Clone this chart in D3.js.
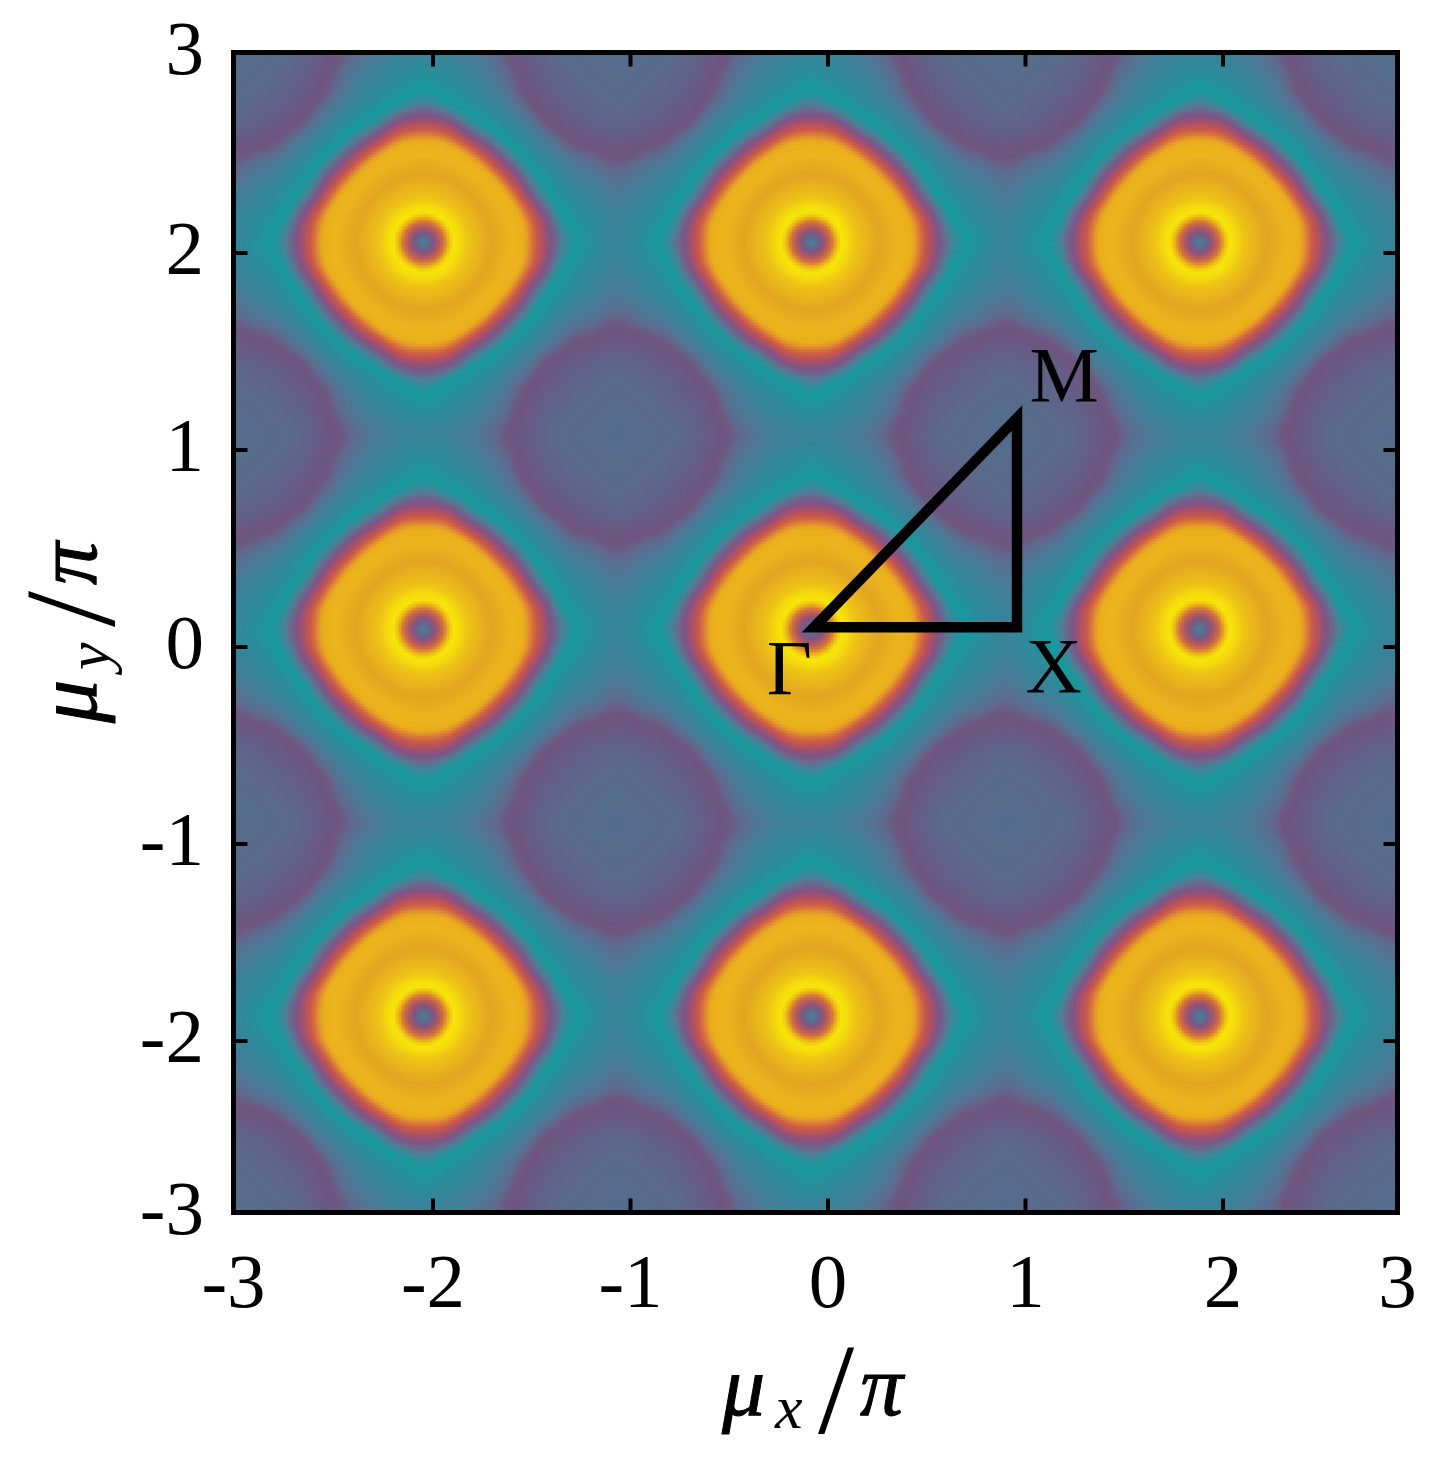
<!DOCTYPE html>
<html>
<head>
<meta charset="utf-8">
<script src="https://cdn.jsdelivr.net/npm/d3@7"></script>
<style>
  html, body { margin: 0; padding: 0; background: #fff; }
  #viz { position: relative; width: 1432px; height: 1462px; }
  #viz canvas, #viz svg { position: absolute; left: 0; top: 0; }
  text { font-family: "Liberation Serif", serif; fill: #000; }
</style>
</head>
<body>
<div id="viz"></div>
<script>
const WIDTH = 1432, HEIGHT = 1462;

const tickValues = [-3, -2, -1, 0, 1, 2, 3];
const tickLabels = ["-3", "-2", "-1", "0", "1", "2", "3"];

// centres of the bright lobes (units of pi)
const peakX = [-2.048, -0.0835, 1.881];
const peakY = [2.057, 0.09, -1.877];
const cellPeriod = 1.9646;

// field level over one quarter of a cell, lobe centre at [0][0], dark corner at [8][8]
const levels = [
  [0, 24, 49, 73, 97, 121, 146, 170, 194],
  [24, 34, 55, 78, 101, 126, 158, 180, 198],
  [49, 55, 71, 92, 116, 146, 176, 198, 215],
  [73, 78, 92, 112, 136, 169, 203, 222, 236],
  [97, 101, 116, 136, 165, 205, 240, 254, 265],
  [121, 126, 146, 169, 205, 248, 270, 288, 298],
  [146, 158, 176, 203, 240, 270, 292, 305, 318],
  [170, 180, 198, 222, 254, 288, 305, 322, 335],
  [194, 198, 215, 236, 265, 298, 318, 335, 346]
];

// colour seen at each level
const levelStops = [0, 1.9, 6.1, 12.7, 20, 25, 30, 36, 45, 68, 88, 100, 104, 108, 113, 120, 127, 134, 138, 146, 150, 156, 164, 178, 194, 215, 235, 243, 250, 265, 285, 310, 346];
const levelColors = ["#4f7c96", "#5e6c8e", "#7c5684", "#b2565f", "#d5763a", "#ecb815", "#f7e60a", "#f5dc0c", "#eec316", "#e3a522", "#ecb41c", "#eab01c", "#e59a28", "#d9783a", "#c9584a", "#a8506a", "#7c5488", "#6a6a8c", "#4f7d96", "#2e8e9b", "#1f949d", "#16999e", "#22929c", "#2f8a9a", "#388399", "#4a7a95", "#5f6a8e", "#6a5c84", "#6e567f", "#6b5882", "#626088", "#5a6a8a", "#556d8c"];

// triangle path in the zone: Gamma, X, M
const pathX = [-0.071, 0.957, 0.957];
const pathY = [0.1, 0.1, 1.162];
const pathNames = ["\u0393", "X", "M"];

const x = d3.scaleLinear().domain([-3, -2, 2, 3]).range([233.5, 433, 1223, 1397.5]);
const y = d3.scaleLinear().domain([-3, -2, 2, 3]).range([1212.5, 1041, 253, 52.5]);
// the field itself runs on the even inner part of the axes
const fieldX = d3.scaleLinear().domain([-2, 2]).range([433, 1223]);
const fieldY = d3.scaleLinear().domain([-2, 2]).range([1041, 253]);
const color = d3.scaleLinear().domain(levelStops).range(levelColors).interpolate(d3.interpolateRgb);

function mirror(i) {
  i = Math.abs(i);
  return i > 8 ? 16 - i : i;
}

function cubic(p0, p1, p2, p3, t) {
  return 0.5 * (2 * p1 + (p2 - p0) * t + (2 * p0 - 5 * p1 + 4 * p2 - p3) * t * t + (3 * p1 - p0 - 3 * p2 + p3) * t * t * t);
}

function levelAt(u, v) {
  // u, v: distance from the lobe centre, 0..1 = half a cell
  const fx = u * 8, fy = v * 8;
  const ix = Math.min(7, Math.floor(fx)), iy = Math.min(7, Math.floor(fy));
  const rows = [-1, 0, 1, 2].map(dy => {
    const r = levels[mirror(iy + dy)];
    return cubic(r[mirror(ix - 1)], r[ix], r[ix + 1], r[mirror(ix + 2)], fx - ix);
  });
  return cubic(rows[0], rows[1], rows[2], rows[3], fy - iy);
}

function folded(val, peak) {
  let d = Math.abs(val - peak) % cellPeriod;
  if (d > cellPeriod / 2) d = cellPeriod - d;
  return d / (cellPeriod / 2);
}

const container = d3.select("#viz");

const canvas = container.append("canvas").attr("width", WIDTH).attr("height", HEIGHT);
const ctx = canvas.node().getContext("2d");
const cell = 3;
for (let py = y(3); py < y(-3); py += cell) {
  for (let px = x(-3); px < x(3); px += cell) {
    const l = levelAt(folded(fieldX.invert(px + cell / 2), peakX[1]), folded(fieldY.invert(py + cell / 2), peakY[1]));
    ctx.fillStyle = color(Math.max(0, l));
    ctx.fillRect(px, py, cell + 0.5, cell + 0.5);
  }
}

const svg = container.append("svg")
  .attr("width", WIDTH)
  .attr("height", HEIGHT)
  .attr("viewBox", `0 0 ${WIDTH} ${HEIGHT}`);

// Gamma-X-M path
svg.append("path")
  .attr("d", d3.line().x(i => fieldX(pathX[i])).y(i => fieldY(pathY[i])).curve(d3.curveLinearClosed)([0, 1, 2]))
  .attr("fill", "none")
  .attr("stroke", "#000")
  .attr("stroke-width", 10.5)
  .attr("stroke-linejoin", "miter")
  .attr("stroke-miterlimit", 10);

const nameAnchors = [[-0.31, -0.24], [1.0, -0.23], [1.02, 1.25]];
pathNames.forEach((name, i) => {
  svg.append("text")
    .attr("x", fieldX(nameAnchors[i][0]))
    .attr("y", fieldY(nameAnchors[i][1]))
    .attr("font-size", 78)
    .text(name);
});

// ticks on all four sides
const inner = tickValues.slice(1, -1);
const ticks = svg.append("g").attr("stroke", "#000").attr("stroke-width", 4);
inner.forEach(t => {
  ticks.append("line").attr("x1", x(t)).attr("x2", x(t)).attr("y1", y(-3)).attr("y2", y(-3) - 14);
  ticks.append("line").attr("x1", x(t)).attr("x2", x(t)).attr("y1", y(3)).attr("y2", y(3) + 14);
  ticks.append("line").attr("y1", y(t)).attr("y2", y(t)).attr("x1", x(-3)).attr("x2", x(-3) + 14);
  ticks.append("line").attr("y1", y(t)).attr("y2", y(t)).attr("x1", x(3)).attr("x2", x(3) - 14);
});

svg.append("rect")
  .attr("x", x(-3))
  .attr("y", y(3))
  .attr("width", x(3) - x(-3))
  .attr("height", y(-3) - y(3))
  .attr("fill", "none")
  .attr("stroke", "#000")
  .attr("stroke-width", 5);

tickValues.forEach((t, i) => {
  svg.append("text")
    .attr("x", x(t))
    .attr("y", 1307)
    .attr("text-anchor", "middle")
    .attr("font-size", 77)
    .text(tickLabels[i]);
  svg.append("text")
    .attr("x", 204)
    .attr("y", y(t) + 21)
    .attr("text-anchor", "end")
    .attr("font-size", 77)
    .text(tickLabels[i]);
});

function axisLabel(transform, sub) {
  const g = svg.append("g").attr("transform", transform);
  g.append("text").attr("x", 0).attr("y", 0).attr("font-size", 86).attr("font-style", "italic").attr("stroke", "#000").attr("stroke-width", 1).text("\u03bc");
  g.append("text").attr("x", 53).attr("y", 13).attr("font-size", 62).attr("font-style", "italic").text(sub);
  g.append("text").attr("x", 96).attr("y", 18).attr("font-size", 130).text("/");
  g.append("text").attr("x", 138).attr("y", 0).attr("font-size", 86).attr("font-style", "italic").attr("stroke", "#000").attr("stroke-width", 1).text("\u03c0");
}
axisLabel("translate(722,1415)", "x");
axisLabel("translate(96,723) rotate(-90)", "y");
</script>
</body>
</html>
